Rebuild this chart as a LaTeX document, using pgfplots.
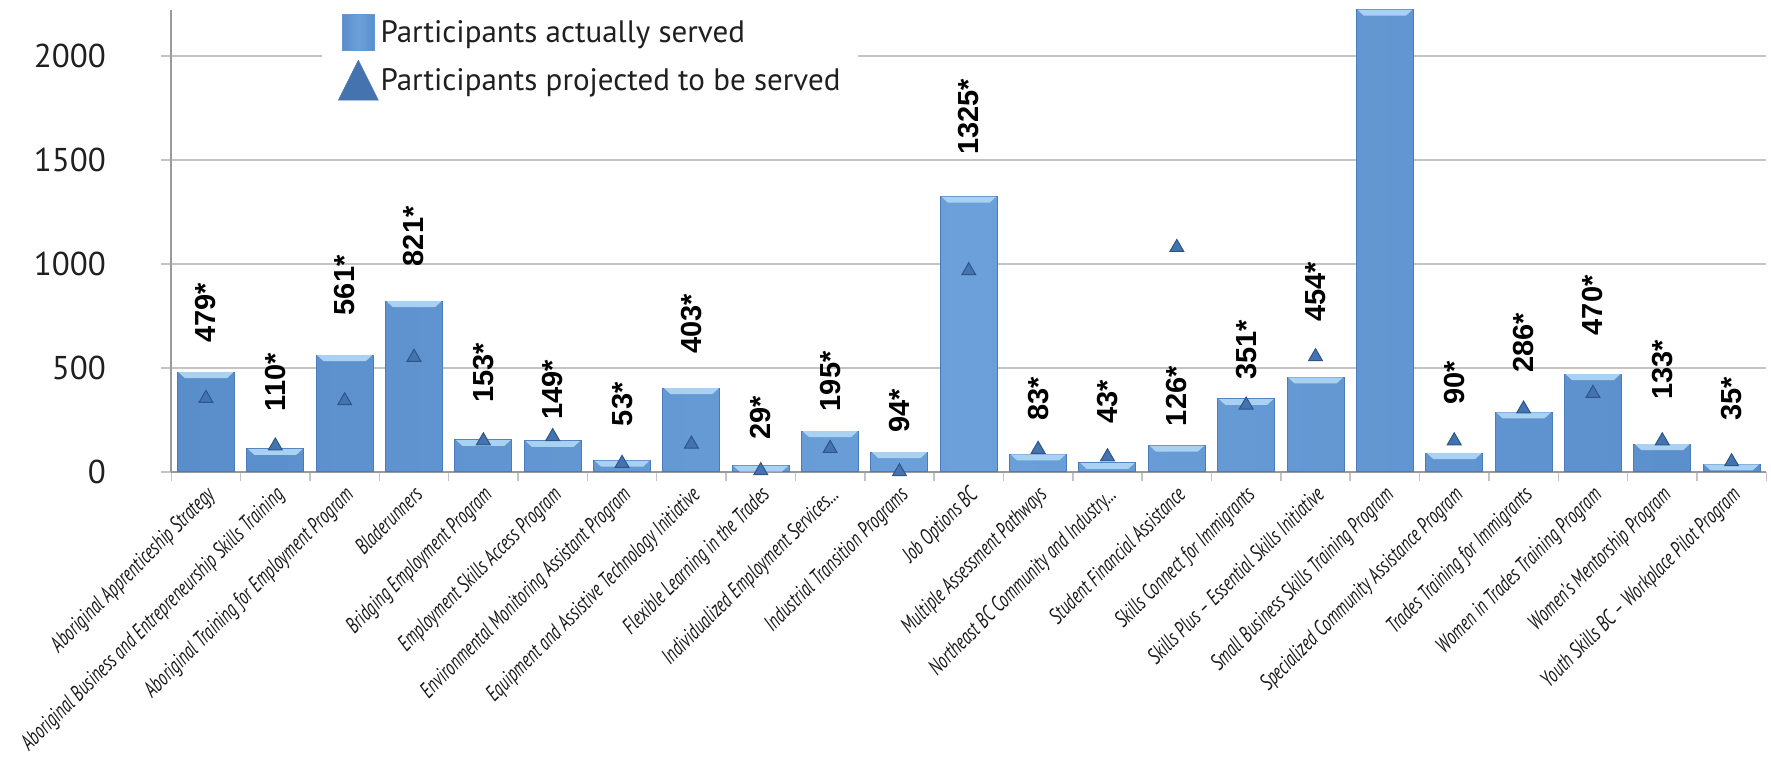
\documentclass[border=0pt]{standalone}
\usepackage{fontspec}
\usepackage{pgfplots}
\usepackage{pgfplotstable}
\pgfplotsset{compat=1.18}
\setmainfont{PT Sans}
\newfontfamily\tickfont[FakeStretch=0.70]{PT Sans}
\newfontfamily\labfont{Liberation Sans}
\definecolor{barfill}{HTML}{6BA0DA}
\definecolor{baredge}{HTML}{4A7BBA}
\definecolor{barside}{HTML}{5A8ECB}
\definecolor{bevel}{HTML}{A9D2F2}
\definecolor{trifill}{HTML}{4473AF}
\definecolor{triedge}{HTML}{2C5689}
\definecolor{gridgray}{HTML}{C4C4C4}
\definecolor{axisgray}{HTML}{9A9A9A}
\definecolor{legsq}{HTML}{6399D2}

\pgfdeclareplotmark{bevel}{%
  \pgfpathmoveto{\pgfpoint{-27.5pt}{0pt}}%
  \pgfpathlineto{\pgfpoint{27.5pt}{0pt}}%
  \pgfpathlineto{\pgfpoint{21pt}{-6pt}}%
  \pgfpathlineto{\pgfpoint{-21pt}{-6pt}}%
  \pgfpathclose\pgfusepathqfill}

\pgfplotstableread{
i v
0 479
1 110
2 561
3 821
4 153
5 149
6 53
7 403
8 29
9 195
10 94
11 1325
12 83
13 43
14 126
15 351
16 454
17 2225
18 90
19 286
20 470
21 133
22 35
}\actual

\pgfplotstableread{
i p
0 353
1 124
2 342
3 551
4 149
5 169
6 40
7 133
8 5
9 112
10 0
11 968
12 108
13 72
14 1080
15 321
16 554
18 149
19 302
20 377
21 149
22 48
}\projected

\pgfplotstableread{
i y t
0 610 479*
1 281 110*
2 743 561*
3 979 821*
4 321 153*
5 241 149*
6 209 53*
7 557 403*
8 144 29*
9 281 195*
10 177 94*
11 1515 1325*
12 236 83*
13 220 43*
14 209 126*
15 433 351*
16 711 454*
18 313 90*
19 466 286*
20 647 470*
21 337 133*
22 236 35*
}\labels

\begin{document}
\begin{tikzpicture}
\begin{axis}[
  at={(0pt,0pt)}, anchor=south west,
  width=1595pt, height=462pt, scale only axis,
  xmin=-0.5, xmax=22.5, ymin=0, ymax=2225,
  clip=false,
  axis x line*=bottom, axis y line*=left,
  axis line style={draw=axisgray, line width=2pt, -},
  ytick={0,500,1000,1500,2000},
  ymajorgrids, grid style={draw=gridgray, line width=2pt},
  major tick length=10pt, tick align=outside,
  ytick style={draw=gridgray, line width=2pt},
  xtick={0,...,22},
  major x tick style={draw=none},
  minor xtick={-0.5,0.5,...,22.5},
  minor tick length=9pt,
  minor x tick style={draw=gridgray, line width=1.5pt},
  /pgf/number format/assume math mode=true,
  /pgf/number format/1000 sep={},
  yticklabel style={font=\fontsize{33}{33}\selectfont, text=black!88, xshift=-52pt},
  xticklabel style={font=\tickfont\itshape\fontsize{22.5}{22.5}\selectfont, rotate=45, anchor=north east, inner sep=0pt, text=black!90, xshift=-3pt, yshift=-1pt},
  xticklabels={
    Aboriginal Apprenticeship Strategy,
    Aboriginal Business and Entrepreneurship Skills Training,
    Aboriginal Training for Employment Program,
    Bladerunners,
    Bridging Employment Program,
    Employment Skills Access Program,
    Environmental Monitoring Assistant Program,
    Equipment and Assistive Technology Initiative,
    Flexible Learning in the Trades,
    Individualized Employment Services…,
    Industrial Transition Programs,
    Job Options BC,
    Multiple Assessment Pathways,
    Northeast BC Community and Industry…,
    Student Financial Assistance,
    Skills Connect for Immigrants,
    Skills Plus – Essential Skills Initiative,
    Small Business Skills Training Program,
    Specialized Community Assistance Program,
    Trades Training for Immigrants,
    Women in Trades Training Program,
    Women’s Mentorship Program,
    Youth Skills BC – Workplace Pilot Program},
  legend style={at={(0.0945,1)}, anchor=north west, draw=none, fill=white,
    inner xsep=16pt, inner ysep=4pt,
    font=\fontsize{31}{31}\selectfont, text=black!88,
    row sep=9pt,
    /tikz/every even column/.append style={column sep=8pt}},
  legend cell align=left,
]
\addplot[ybar, bar width=57pt, left color=barside, right color=barside, middle color=barfill,
  draw=baredge, line width=1pt,
  legend image code/.code={\fill[legsq] (0pt,-18pt) rectangle (32pt,18pt);}]
  table[x=i, y=v] {\actual};
\addlegendentry{Participants actually served}
\addplot[only marks, mark=bevel, mark options={fill=bevel, draw=none}, forget plot]
  table[x=i, y=v] {\actual};
\addplot[only marks, mark=triangle*, mark size=8pt,
  mark options={fill=trifill, draw=triedge, line width=1pt},
  legend image code/.code={\fill[trifill] (-4pt,-20pt) -- (36pt,-20pt) -- (16pt,20pt) -- cycle;}]
  table[x=i, y=p] {\projected};
\addlegendentry{Participants projected to be served}
\addplot[draw=none, mark=none, forget plot, point meta=explicit symbolic,
  nodes near coords,
  nodes near coords style={rotate=90, anchor=west, inner sep=0pt, xshift=2pt,
    font=\labfont\bfseries\fontsize{29}{29}\selectfont, text=black}]
  table[x=i, y=y, meta=t] {\labels};
\end{axis}
\pgfresetboundingbox
\useasboundingbox (-171.3pt,-285.3pt) rectangle (1599.7pt,471.7pt);
\end{tikzpicture}
\end{document}
